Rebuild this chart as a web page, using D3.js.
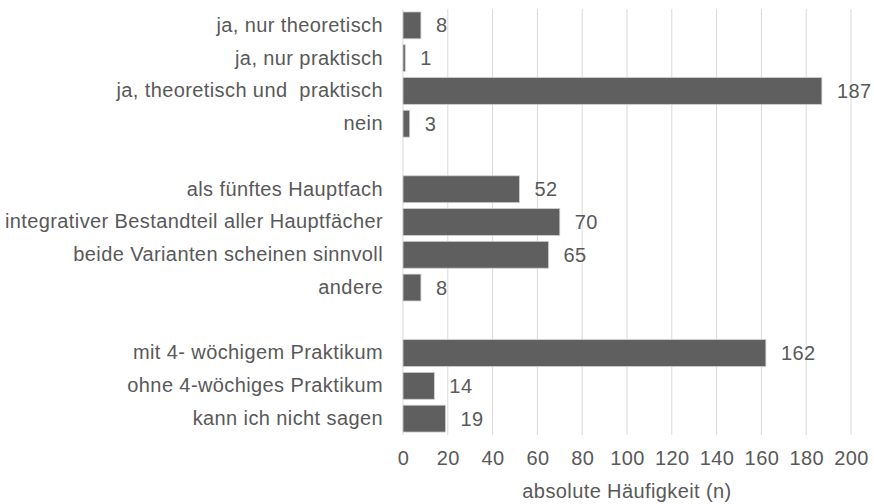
<!DOCTYPE html>
<meta charset="utf-8">
<style>
body { margin: 0; background: #fff; }
text { font-family: "Liberation Sans", Arial, sans-serif; fill: #595959; letter-spacing: 0.4px; }
.bar { fill: #5f5f5f; stroke: #d0d0d0; stroke-width: 0.8; }
.grid line { stroke: #d9d9d9; stroke-width: 1; }
</style>
<body>
<script src="https://d3js.org/d3.v7.min.js"></script>
<script>
// rows top to bottom, "" = empty spacer row between groups
var categories = ["ja, nur theoretisch", "ja, nur praktisch", "ja, theoretisch und  praktisch", "nein", "",
  "als fünftes Hauptfach", "integrativer Bestandteil aller Hauptfächer", "beide Varianten scheinen sinnvoll", "andere", " ",
  "mit 4- wöchigem Praktikum", "ohne 4-wöchiges Praktikum", "kann ich nicht sagen"];
var values = [8, 1, 187, 3, null, 52, 70, 65, 8, null, 162, 14, 19];
var ticks = [0, 20, 40, 60, 80, 100, 120, 140, 160, 180, 200];
var axisTitle = "absolute Häufigkeit (n)";

var width = 874, height = 504;
var margin = {top: 9, right: 23, bottom: 69, left: 403};
var fs = "20px";

var x = d3.scaleLinear().domain([0, 200]).range([margin.left, width - margin.right]);
var y = d3.scaleBand().domain(categories).range([margin.top, height - margin.bottom]).paddingInner(0.18).paddingOuter(0.09);

var svg = d3.select("body").append("svg")
    .attr("width", width)
    .attr("height", height);

// vertical gridlines
svg.append("g").attr("class", "grid")
  .selectAll("line").data(ticks).enter().append("line")
    .attr("x1", function(d) { return x(d); })
    .attr("x2", function(d) { return x(d); })
    .attr("y1", margin.top)
    .attr("y2", height - margin.bottom);

var data = categories.map(function(c, i) { return {cat: c, v: values[i]}; })
  .filter(function(d) { return d.v !== null; });

svg.selectAll(".bar")
    .data(data)
  .enter().append("rect")
    .attr("class", "bar")
    .attr("x", x(0))
    .attr("y", function(d) { return y(d.cat); })
    .attr("width", function(d) { return x(d.v) - x(0); })
    .attr("height", y.bandwidth());

// value labels
svg.selectAll(".val")
    .data(data)
  .enter().append("text")
    .attr("class", "val")
    .attr("x", function(d) { return x(d.v) + 15; })
    .attr("y", function(d) { return y(d.cat) + y.bandwidth() / 2; })
    .attr("dy", "0.35em")
    .style("font-size", fs)
    .text(function(d) { return d.v; });

// category labels
svg.append("g")
    .attr("transform", "translate(" + (margin.left - 20) + ",0)")
    .call(d3.axisLeft(y).tickSize(0).tickPadding(0))
    .call(function(g) { g.select(".domain").remove(); })
    .selectAll("text")
    .style("font-size", fs)
    .style("white-space", "pre")
    .attr("fill", null);

// x axis
svg.append("g")
    .attr("transform", "translate(0," + (height - margin.bottom) + ")")
    .call(d3.axisBottom(x).tickValues(ticks).tickSize(0).tickPadding(16))
    .call(function(g) { g.select(".domain").remove(); })
    .selectAll("text")
    .style("font-size", fs)
    .attr("fill", null);

svg.append("text")
    .attr("x", (x(0) + x(200)) / 2)
    .attr("y", 498)
    .attr("text-anchor", "middle")
    .style("font-size", fs)
    .text(axisTitle);
</script>
</body>
